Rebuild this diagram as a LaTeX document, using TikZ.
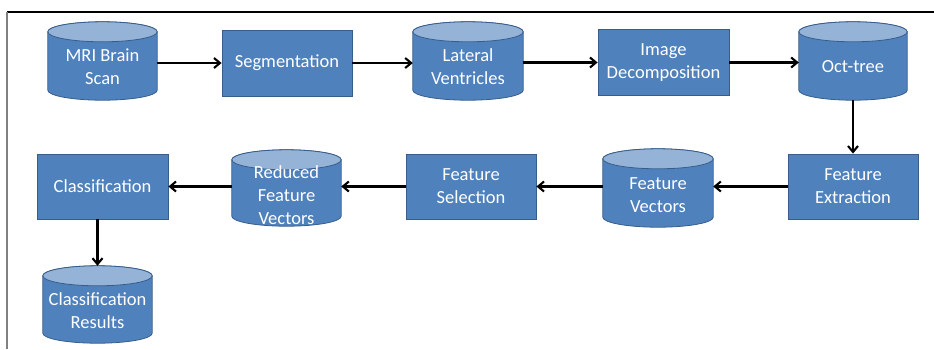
\documentclass[tikz,border=0pt]{standalone}
\usepackage{fontspec}
\setmainfont{Carlito}
\usetikzlibrary{arrows.meta,calc}
\definecolor{boxblue}{HTML}{4F81BD}
\definecolor{boxedge}{HTML}{385D8A}
\definecolor{toplight}{HTML}{95B3D7}
\begin{document}
\begin{tikzpicture}[x=1pt,y=-1pt,
  txt/.style={text=white, align=center, font=\fontsize{18.5}{23}\selectfont, inner sep=0pt},
  proc/.style={rectangle, fill=boxblue, draw=boxedge, line width=0.8pt, txt, minimum width=130pt, minimum height=65pt},
  cylbox/.style={rectangle, inner sep=0pt},
  cylbody/.style={fill=boxblue, draw=boxedge, line width=0.8pt},
  cyltop/.style={fill=toplight, draw=boxedge, line width=0.8pt},
  arr/.style={-{Straight Barb[length=6pt,width=10pt]}, line width=2.1pt, black}
]
\useasboundingbox (0,0) rectangle (934,349);
% frame
\draw[black, line width=1.3pt] (7,12) -- (934,12);
\draw[gray, line width=2pt] (7,12) -- (7,349);

% process boxes
\node[proc, minimum height=66pt] (seg) at (287,63) {Segmentation};
\node[proc, minimum width=131pt, minimum height=66pt] (imgdec) at (663.5,62.5) {Image\\Decomposition};
\node[proc] (fe) at (853,186.5) {Feature\\Extraction};
\node[proc] (fs) at (471,186.5) {Feature\\Selection};
\node[proc, minimum width=131pt] (cls) at (102.5,186.5) {Classification};

% cylinder frames
\node[cylbox, minimum width=109pt, minimum height=78pt] (mri) at (102.5,61) {};
\node[cylbox, minimum width=110pt, minimum height=78pt] (lv) at (468,61) {};
\node[cylbox, minimum width=108pt, minimum height=78pt] (oct) at (853,61) {};
\node[cylbox, minimum width=110pt, minimum height=78pt] (fv) at (658,188) {};
\node[cylbox, minimum width=109pt, minimum height=76pt] (rfv) at (286.5,188) {};
\node[cylbox, minimum width=109pt, minimum height=77pt] (cr) at (97.5,304.5) {};

\foreach \c in {mri,lv,oct,fv,rfv,cr} {
  \filldraw[cylbody] let \p1=(\c.north west), \p2=(\c.south east), \n1={(\x2-\x1)/2} in
    (\x1,\y1-10pt) -- (\x1,\y2+10pt)
    arc[start angle=180, end angle=360, x radius=\n1, y radius=10pt]
    -- (\x2,\y1-10pt)
    arc[start angle=0, end angle=180, x radius=\n1, y radius=10pt] -- cycle;
  \filldraw[cyltop] let \p1=(\c.north west), \p2=(\c.south east), \n1={(\x2-\x1)/2} in
    ({(\x1+\x2)/2},\y1-10pt) ellipse [x radius=\n1, y radius=10pt];
}

% cylinder labels
\node[txt] (mriT) at (102.5,67) {MRI Brain\\Scan};
\node[txt] (lvT) at (468,67) {Lateral\\Ventricles};
\node[txt] (octT) at (853,67) {Oct-tree};
\node[txt] (fvT) at (658,195) {Feature\\Vectors};
\node[txt] (rfvT) at (286.5,195) {Reduced\\Feature\\Vectors};
\node[txt] (crT) at (97.5,311) {Classification\\Results};

% connectors
\draw[arr] (mri.east |- seg.west) -- (seg.west);
\draw[arr] (seg.east) -- (lv.west |- seg.east);
\draw[arr] (lv.east |- imgdec.west) -- (imgdec.west);
\draw[arr] (imgdec.east) -- (oct.west |- imgdec.east);
\draw[arr] (oct.south) -- (fe.north);
\draw[arr] (fe.west) -- (fv.east |- fe.west);
\draw[arr] (fv.west |- fs.east) -- (fs.east);
\draw[arr] (fs.west) -- (rfv.east |- fs.west);
\draw[arr] (rfv.west |- cls.east) -- (cls.east);
\draw[arr] (cls.south -| cr.north) -- (cr.north);
\end{tikzpicture}
\end{document}
